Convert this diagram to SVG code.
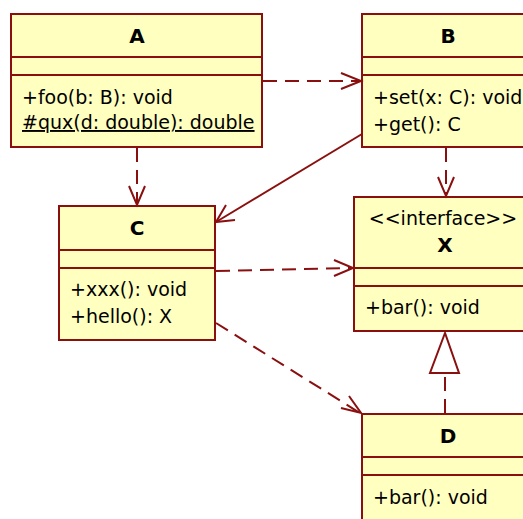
<svg xmlns="http://www.w3.org/2000/svg" width="523" height="519" viewBox="0 0 523 519">
  <style>
    .box { fill: #ffffc0; stroke: #8a1010; stroke-width: 2; }
    .sep { stroke: #8a1010; stroke-width: 2; }
    .t { font-family: "DejaVu Sans", Verdana, sans-serif; font-size: 19px; fill: #000; }
    .title { font-family: "DejaVu Sans", Verdana, sans-serif; font-size: 20px; font-weight: bold; fill: #000; text-anchor: middle; }
    .edge { fill: none; stroke: #8a1010; stroke-width: 2; }
    .dash { stroke-dasharray: 14 8; }
    .head { fill: none; stroke: #8a1010; stroke-width: 2; }
  </style>
  <rect width="523" height="519" fill="#fff"/>

  <g id="A">
    <rect class="box" x="11" y="14" width="251" height="133"/>
    <line class="sep" x1="11" y1="57" x2="262" y2="57"/>
    <line class="sep" x1="11" y1="75" x2="262" y2="75"/>
    <text class="title" x="137" y="43">A</text>
    <text class="t" x="22" y="104">+foo(b: B): void</text>
    <text class="t" x="22" y="129" text-decoration="underline">#qux(d: double): double</text>
  </g>

  <g id="B">
    <rect class="box" x="362" y="14" width="170" height="133"/>
    <line class="sep" x1="362" y1="57" x2="532" y2="57"/>
    <line class="sep" x1="362" y1="75" x2="532" y2="75"/>
    <text class="title" x="448" y="43">B</text>
    <text class="t" x="373" y="104">+set(x: C): void</text>
    <text class="t" x="373" y="131">+get(): C</text>
  </g>

  <g id="C">
    <rect class="box" x="59" y="206" width="156" height="134"/>
    <line class="sep" x1="59" y1="250" x2="215" y2="250"/>
    <line class="sep" x1="59" y1="268" x2="215" y2="268"/>
    <text class="title" x="137" y="235">C</text>
    <text class="t" x="70" y="296">+xxx(): void</text>
    <text class="t" x="70" y="323">+hello(): X</text>
  </g>

  <g id="X">
    <rect class="box" x="354" y="197" width="178" height="134"/>
    <line class="sep" x1="354" y1="268" x2="532" y2="268"/>
    <line class="sep" x1="354" y1="286" x2="532" y2="286"/>
    <text class="t" x="443" y="225" text-anchor="middle">&lt;&lt;interface&gt;&gt;</text>
    <text class="title" x="445" y="252">X</text>
    <text class="t" x="365" y="314">+bar(): void</text>
  </g>

  <g id="D">
    <rect class="box" x="362" y="414" width="170" height="120"/>
    <line class="sep" x1="362" y1="457" x2="532" y2="457"/>
    <line class="sep" x1="362" y1="475" x2="532" y2="475"/>
    <text class="title" x="448" y="443">D</text>
    <text class="t" x="373" y="504">+bar(): void</text>
  </g>

  <g id="connectors">
    <!-- A uses B -->
    <line class="edge dash" x1="263" y1="81" x2="360" y2="81"/>
    <polyline class="head" points="341,73 361,81 341,89"/>
    <!-- A uses C -->
    <line class="edge dash" x1="137" y1="148" x2="137" y2="204"/>
    <polyline class="head" points="129,186 137,205 145,186"/>
    <!-- B associates C -->
    <line class="edge" x1="362" y1="134" x2="216" y2="222"/>
    <polyline class="head" points="226,205 216,222 235,220"/>
    <!-- B uses X -->
    <line class="edge dash" x1="446" y1="148" x2="446" y2="195"/>
    <polyline class="head" points="438,177 446,196 454,177"/>
    <!-- C uses X -->
    <line class="edge dash" x1="216" y1="271" x2="352" y2="268"/>
    <polyline class="head" points="334,260 353,268 334,276"/>
    <!-- C uses D -->
    <line class="edge dash" x1="216" y1="323" x2="360" y2="413"/>
    <polyline class="head" points="341,408 361,413 349,396"/>
    <!-- D realizes X -->
    <line class="edge dash" x1="445" y1="413" x2="445" y2="374"/>
    <polygon class="head" points="445,333 430,373 459,373"/>
  </g>
</svg>
